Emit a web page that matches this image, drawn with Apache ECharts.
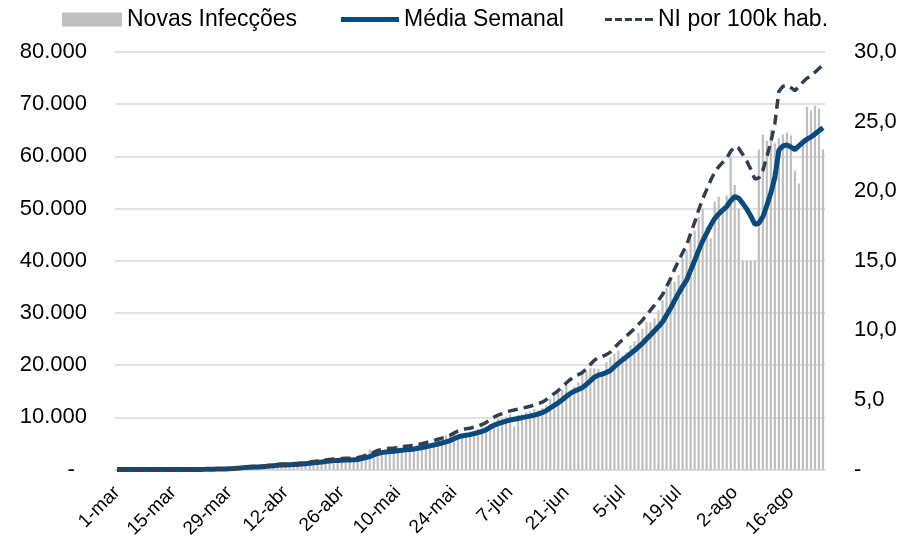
<!DOCTYPE html>
<html>
<head>
<meta charset="utf-8">
<script src="https://cdn.jsdelivr.net/npm/echarts@6/dist/echarts.min.js"></script>
<style>
  html, body { margin: 0; padding: 0; background: #fff; }
  #chart { width: 902px; height: 541px; }
</style>
</head>
<body>
<div id="chart"></div>
<script>
// categorias: dias de 1-mar a 24-ago
const monthNames = ['mar', 'abr', 'mai', 'jun', 'jul', 'ago'];
const monthDays = [31, 30, 31, 30, 31, 24];
const days = [];
monthNames.forEach((m, i) => {
  for (let d = 1; d <= monthDays[i]; d++) days.push(d + '-' + m);
});

// novas infecções diárias (barras)
const novasInfeccoes = [
  0, 0, 1, 1, 2, 2, 3, 3, 4, 5, 6, 7, 8, 9, 10,
  10, 15, 20, 25, 35, 50, 60,
  60, 80, 100, 150, 180, 250, 300,
  200, 300, 400, 500, 600, 700, 900,
  650, 620, 850, 900, 980, 1150, 1150,
  1050, 1000, 1250, 1300, 1500, 1400, 1600,
  1450, 1700, 1650, 1850, 1800, 2050, 2050,
  1750, 1950, 1900, 2050, 2900, 3100, 3850,
  3300, 3500, 3150, 3400, 3750, 3650, 4450,
  3600, 3750, 4150, 4200, 4800, 4900, 5200,
  4950, 5050, 5600, 5650, 6550, 6700, 6800,
  6500, 6900, 6600, 7300, 7350, 7750, 8700,
  8300, 8750, 9150, 9700, 9850, 10150, 10600,
  8300, 10500, 10600, 11000, 11200, 11600, 11400,
  11800, 12300, 13600, 14000, 14800, 15300, 16200,
  14900, 15900, 16700, 18500, 18900, 19400, 19400,
  19300, 18700, 20600, 21500, 22200, 22800, 21900,
  22500, 23800, 24600, 26200, 27000, 28300, 28200,
  29000, 30500, 32500, 34800, 36500, 36000, 37300,
  40500, 42000, 44300, 45800, 48400, 49900, 46500,
  44300, 51300, 52300, 50000, 52500, 59800, 54500, 50000,
  40000, 40000, 40000, 40000,
  61300, 64200, 63000, 65000, 62500, 63500, 64200, 64600, 64000,
  57300, 54800, 63500, 69500, 68800, 69700, 69200, 61300
];

// média semanal (linha azul)
const mediaSemanal = [
  0, 0, 1, 4, 4, 4, 4, 5, 6, 8, 9, 10, 12, 12, 13,
  14, 15, 18, 20, 23, 30, 37, 49, 68, 81, 95, 108, 125, 160, 190,
  260, 330, 400, 450, 490, 520, 560, 600, 680, 750,
  820, 860, 900, 940, 980, 1000, 1060, 1130, 1200, 1300,
  1380, 1450, 1550, 1650, 1720, 1760, 1790, 1820, 1850, 1880,
  1950, 2100, 2300, 2500, 2800, 3100, 3250, 3380, 3450, 3520,
  3600, 3700, 3780, 3850, 3950, 4080, 4200, 4380, 4550, 4720,
  4900, 5100, 5300, 5550, 5900, 6250, 6450, 6600, 6700, 6900,
  7100, 7300, 7600, 8100, 8500, 8800, 9050, 9300, 9500, 9650,
  9800, 9950, 10100, 10250, 10450, 10650, 10900, 11300, 11800, 12300,
  12800, 13400, 14000, 14600, 15000, 15350, 15700, 16300, 17000, 17700,
  18100, 18300, 18600, 19000, 19700, 20400, 21000, 21600, 22200, 22800,
  23500, 24200, 25000, 25800, 26600, 27400, 28300, 29600, 30900, 32400,
  33800, 35100, 36300, 38200, 40000, 42000, 43800, 45300, 46800, 48100,
  49000, 49700, 50400, 51500, 52300, 52000, 51000, 49900, 48600, 47000,
  47200, 48400, 50600, 53000, 56000, 61200, 62000, 62200, 61800, 61300,
  62000, 62700, 63300, 63700, 64300, 64900, 65500
];

// NI por 100k hab. (linha tracejada, eixo direito)
const niPor100k = [
  0, 0, 0, 0, 0, 0, 0, 0, 0, 0, 0, 0, 0.01, 0.01, 0.01,
  0.01, 0.01, 0.01, 0.01, 0.01, 0.01, 0.02, 0.02, 0.03, 0.04, 0.04, 0.05, 0.06, 0.07, 0.08,
  0.12, 0.15, 0.18, 0.20, 0.22, 0.23, 0.25, 0.27, 0.30, 0.33,
  0.36, 0.38, 0.40, 0.42, 0.44, 0.44, 0.47, 0.50, 0.53, 0.58,
  0.61, 0.64, 0.69, 0.73, 0.76, 0.78, 0.79, 0.81, 0.82, 0.83,
  0.87, 0.93, 1.02, 1.11, 1.24, 1.38, 1.44, 1.50, 1.53, 1.56,
  1.60, 1.64, 1.68, 1.71, 1.75, 1.81, 1.86, 1.94, 2.02, 2.10,
  2.18, 2.26, 2.35, 2.46, 2.62, 2.78, 2.86, 2.93, 2.97, 3.06,
  3.15, 3.24, 3.37, 3.60, 3.77, 3.91, 4.02, 4.13, 4.22, 4.28,
  4.35, 4.42, 4.48, 4.55, 4.64, 4.73, 4.84, 5.02, 5.24, 5.46,
  5.68, 5.95, 6.22, 6.48, 6.66, 6.82, 6.97, 7.24, 7.55, 7.86,
  8.04, 8.13, 8.26, 8.44, 8.75, 9.06, 9.32, 9.59, 9.86, 10.12,
  10.43, 10.74, 11.10, 11.46, 11.81, 12.17, 12.57, 13.14, 13.72, 14.39,
  15.01, 15.58, 16.12, 16.96, 17.76, 18.65, 19.45, 20.11, 20.78, 21.36,
  21.76, 22.07, 22.38, 22.87, 23.22, 23.09, 22.64, 22.16, 21.58, 20.87,
  20.96, 21.49, 22.47, 23.53, 24.86, 27.17, 27.53, 27.62, 27.44, 27.22,
  27.53, 27.84, 28.11, 28.28, 28.55, 28.82, 29.08
];

const FONT = 'Liberation Sans, Arial, sans-serif';
const BLUE = '#0b4a7e';
const DASH = '#333f4f';

const fmtLeft = v => v === 0 ? '-  ' : String(v).replace(/\B(?=(\d{3})+(?!\d))/g, '.');
const fmtRight = v => v === 0 ? '-' : v.toFixed(1).replace('.', ',');

const legendText = { fontSize: 23, color: '#000', fontFamily: FONT };

const chart = echarts.init(document.getElementById('chart'));
chart.setOption({
  animation: false,
  textStyle: { fontFamily: FONT },
  legend: [
    {
      data: [{ name: 'Novas Infecções', icon: 'rect' }], left: 57, top: 3,
      itemWidth: 60, itemHeight: 14, textStyle: legendText
    },
    {
      data: [{ name: 'Média Semanal', icon: 'rect' }], left: 336, top: 3,
      itemWidth: 58, itemHeight: 5, textStyle: legendText
    },
    {
      data: [{ name: 'NI por 100k hab.', icon: 'path://M0,0h7v3h-7zM10,0h7v3h-7zM20,0h7v3h-7zM30,0h7v3h-7zM40,0h8v3h-8z' }],
      left: 600, top: 3,
      itemWidth: 48, itemHeight: 3, textStyle: legendText
    }
  ],
  grid: { left: 115, right: 77, top: 52, bottom: 71 },
  xAxis: {
    type: 'category',
    data: days,
    axisLine: { lineStyle: { color: '#d9d9d9', width: 1.5 } },
    axisTick: { show: false },
    axisLabel: {
      interval: 13, rotate: 45, margin: 20,
      fontSize: 19, color: '#000', fontFamily: FONT
    }
  },
  yAxis: [
    {
      type: 'value', min: 0, max: 80000, interval: 10000,
      axisLine: { show: false }, axisTick: { show: false },
      splitLine: { lineStyle: { color: '#d9d9d9', width: 1.5 } },
      axisLabel: { formatter: fmtLeft, margin: 28, fontSize: 22, color: '#000', fontFamily: FONT }
    },
    {
      type: 'value', min: 0, max: 30, interval: 5,
      axisLine: { show: false }, axisTick: { show: false },
      splitLine: { show: false },
      axisLabel: { formatter: fmtRight, margin: 29, fontSize: 22, color: '#000', fontFamily: FONT }
    }
  ],
  series: [
    {
      name: 'Novas Infecções', type: 'bar',
      data: novasInfeccoes,
      barCategoryGap: '45%',
      itemStyle: { color: '#bfbfbf' }
    },
    {
      name: 'Média Semanal', type: 'line',
      data: mediaSemanal,
      symbol: 'none',
      lineStyle: { color: BLUE, width: 5 },
      itemStyle: { color: BLUE }
    },
    {
      name: 'NI por 100k hab.', type: 'line', yAxisIndex: 1,
      data: niPor100k,
      symbol: 'none',
      lineStyle: { color: DASH, width: 3.5, type: [10, 6] },
      itemStyle: { color: DASH }
    }
  ]
});
</script>
</body>
</html>
